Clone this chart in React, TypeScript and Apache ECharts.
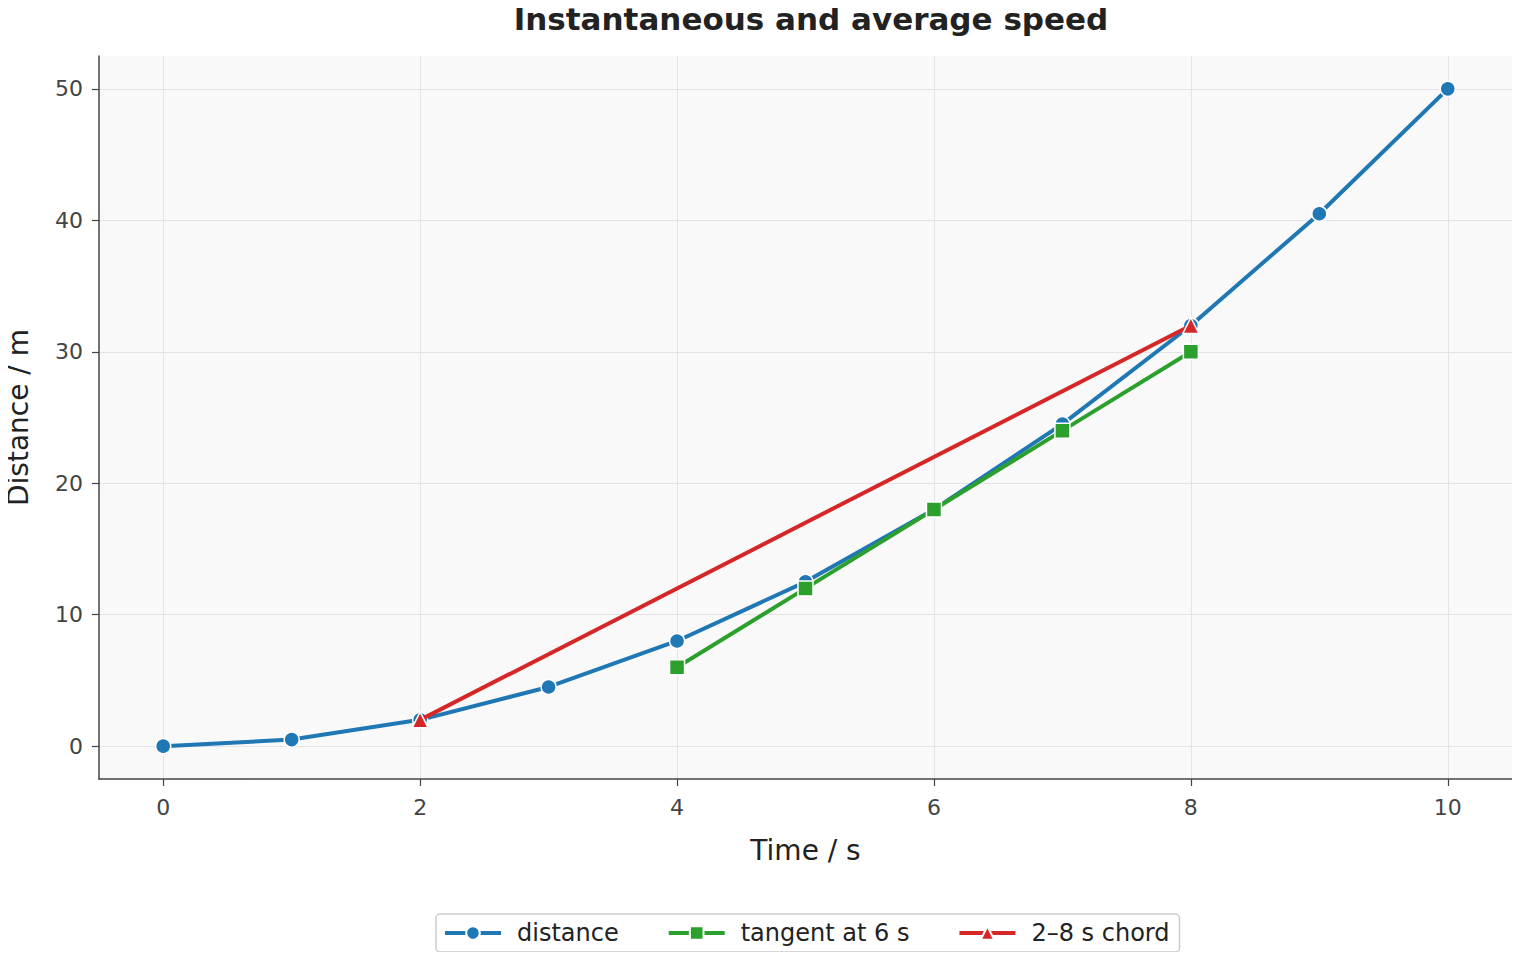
import React, { useEffect, useRef } from "react";
import * as echarts from "echarts";

const timeS = [0, 1, 2, 3, 4, 5, 6, 7, 8, 9, 10];
const distanceM = [0, 0.5, 2, 4.5, 8, 12.5, 18, 24.5, 32, 40.5, 50];
const tangentT = [4, 5, 6, 7, 8];
const tangentM = [6, 12, 18, 24, 30];
const chordT = [2, 8];
const chordM = [2, 32];
const xTicks = [0, 2, 4, 6, 8, 10];
const yTicks = [0, 10, 20, 30, 40, 50];

const FONT = "DejaVu Sans";

export default function App() {
  const ref = useRef<HTMLDivElement>(null);
  useEffect(() => {
    if (!ref.current) return;
    const chart = echarts.init(ref.current, undefined, { renderer: "svg" });
    const pairs = (xs: number[], ys: number[]) => xs.map((x, i) => [x, ys[i]]);
    chart.setOption({
      animation: false,
      textStyle: { fontFamily: FONT },
      title: {
        text: "Instantaneous and average speed",
        left: 806,
        textAlign: "center",
        top: -2,
        textStyle: { fontFamily: FONT, fontSize: 31, fontWeight: "bold", color: "#222" },
      },
      grid: {
        left: 99,
        right: 8,
        top: 56,
        bottom: 181,
        show: true,
        backgroundColor: "#f9f9f9",
        borderWidth: 0,
        containLabel: false,
        outerBoundsMode: "none",
      },
      legend: {
        bottom: 8,
        left: 436,
        itemWidth: 56,
        itemHeight: 17,
        itemGap: 48,
        padding: [7, 10, 7, 7],
        borderColor: "#cccccc",
        borderWidth: 1.5,
        borderRadius: 4,
        backgroundColor: "#ffffff",
        lineStyle: { width: 4 },
        textStyle: { fontFamily: FONT, fontSize: 24, color: "#222", padding: [0, 0, 0, 11] },
        data: ["distance", "tangent at 6 s", "2–8 s chord"],
      },
      xAxis: {
        type: "value",
        min: -0.5,
        max: 10.5,
        name: "Time / s",
        nameLocation: "middle",
        nameGap: 57,
        nameTextStyle: { fontFamily: FONT, fontSize: 28, color: "#222" },
        axisLine: { show: true, onZero: false, lineStyle: { color: "#444", width: 1.5 } },
        axisTick: { show: true, length: 7, customValues: xTicks, lineStyle: { color: "#444", width: 1.2 } },
        axisLabel: { customValues: xTicks, fontSize: 22, color: "#444", margin: 17, fontFamily: FONT },
        splitLine: { show: true, lineStyle: { color: "#e4e4e8", width: 1 } },
      },
      yAxis: {
        type: "value",
        min: -2.5,
        max: 52.5,
        name: "Distance / m",
        nameLocation: "middle",
        nameGap: 67,
        nameTextStyle: { fontFamily: FONT, fontSize: 28, color: "#222" },
        axisLine: { show: true, onZero: false, lineStyle: { color: "#444", width: 1.5 } },
        axisTick: { show: true, length: 7, customValues: yTicks, lineStyle: { color: "#444", width: 1.2 } },
        axisLabel: { customValues: yTicks, fontSize: 22, color: "#444", margin: 16, fontFamily: FONT },
        splitLine: { show: true, lineStyle: { color: "#e4e4e8", width: 1 } },
      },
      series: [
        {
          name: "distance",
          type: "line",
          data: pairs(timeS, distanceM),
          symbol: "circle",
          symbolSize: 15,
          color: "#1f77b4",
          lineStyle: { width: 4, color: "#1f77b4" },
          itemStyle: { color: "#1f77b4", borderColor: "#ffffff", borderWidth: 1.5 },
          z: 2,
        },
        {
          name: "tangent at 6 s",
          type: "line",
          data: pairs(tangentT, tangentM),
          symbol: "rect",
          symbolSize: 15,
          color: "#2ca02c",
          lineStyle: { width: 4, color: "#2ca02c" },
          itemStyle: { color: "#2ca02c", borderColor: "#ffffff", borderWidth: 1.5 },
          z: 3,
        },
        {
          name: "2–8 s chord",
          type: "line",
          data: pairs(chordT, chordM),
          symbol: "triangle",
          symbolSize: 16,
          color: "#d62728",
          lineStyle: { width: 4, color: "#d62728" },
          itemStyle: { color: "#d62728", borderColor: "#ffffff", borderWidth: 1.5 },
          z: 4,
        },
      ],
    });
    return () => chart.dispose();
  }, []);
  return <div ref={ref} style={{ width: 1520, height: 960, margin: -8 }} />;
}
